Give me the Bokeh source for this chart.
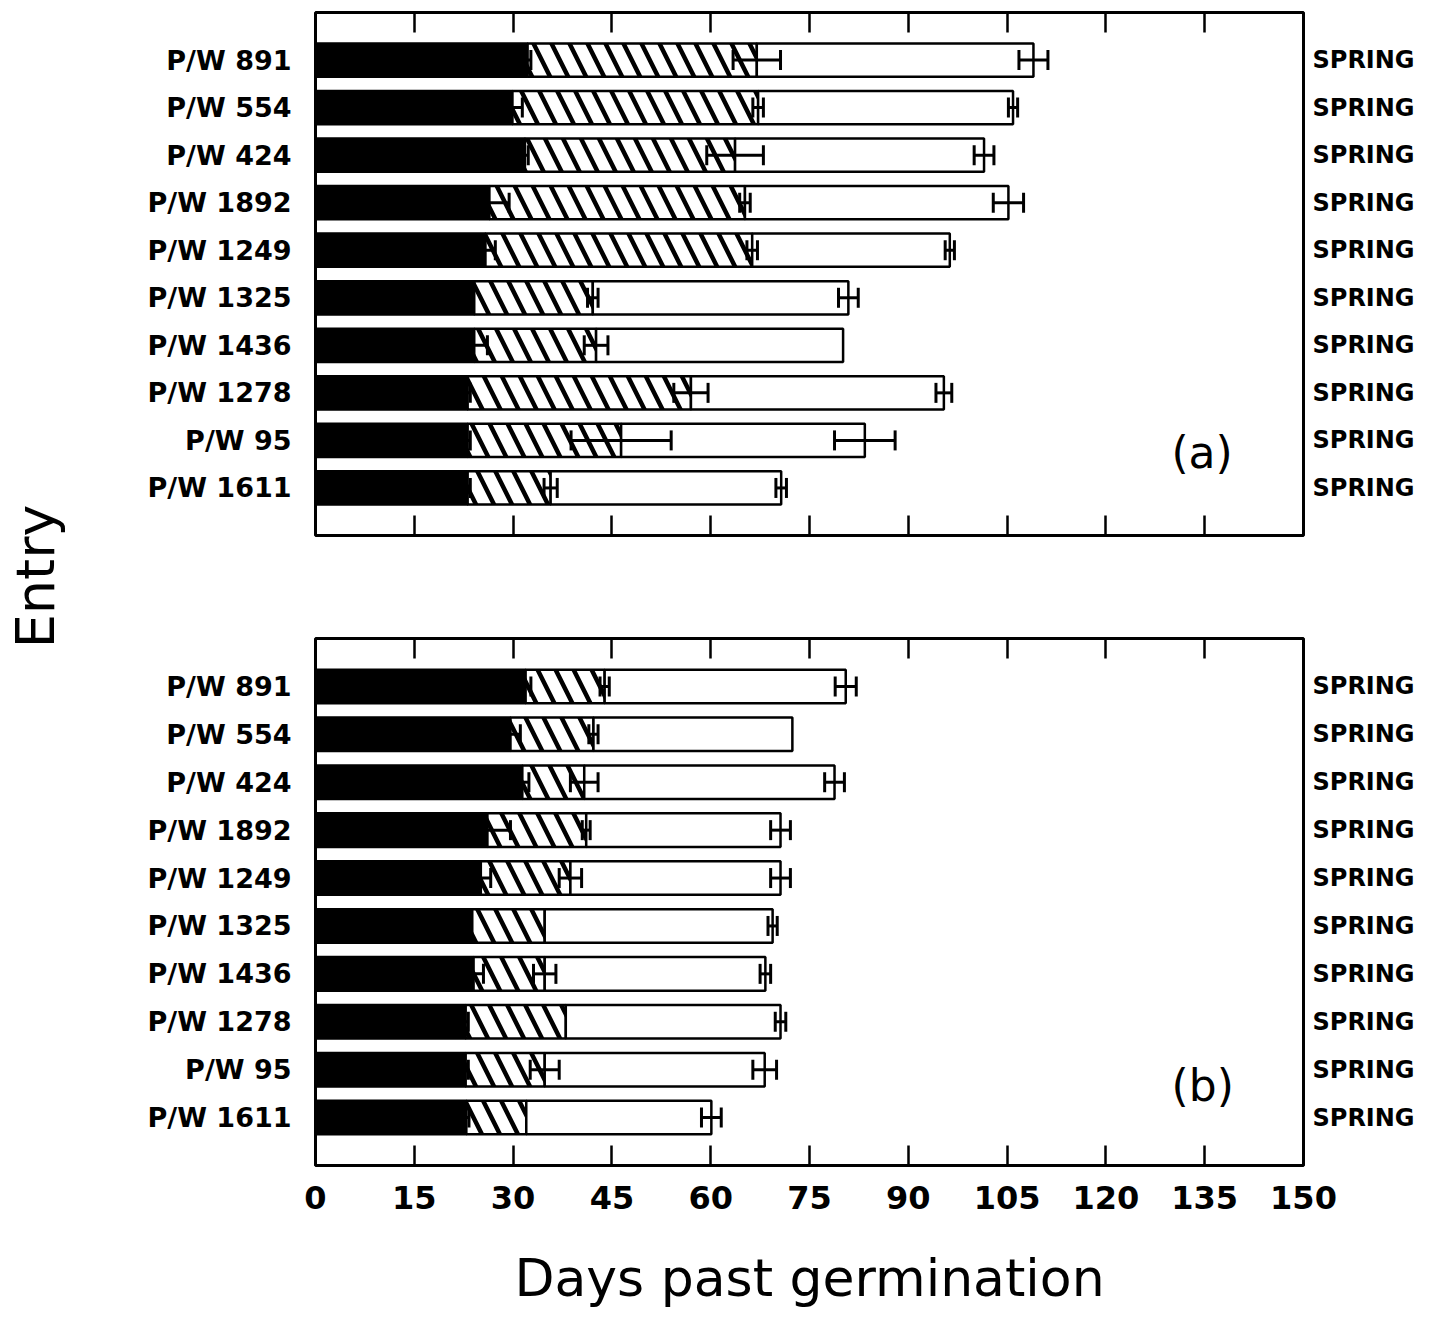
from bokeh.plotting import figure
from bokeh.models import (Range1d, FixedTicker, LinearAxis, Whisker, TeeHead,
                          ColumnDataSource, Label)
from bokeh.layouts import row, column
from bokeh.embed import file_html
from bokeh.resources import INLINE
from bokeh.core.properties import value

# ---------------- data ----------------
entries = ["P/W 891", "P/W 554", "P/W 424", "P/W 1892", "P/W 1249",
           "P/W 1325", "P/W 1436", "P/W 1278", "P/W 95", "P/W 1611"]
season = ["SPRING"] * 10
day_ticks = [0, 15, 30, 45, 60, 75, 90, 105, 120, 135, 150]

# panel (a): end of each phase (days) and its standard error
a_phase1 = [32.2, 29.9, 31.8, 26.4, 25.8, 24.1, 24.1, 23.1, 23.1, 23.1]
a_phase1_se = [0.5, 1.5, 0.5, 3.0, 1.5, 0.0, 2.0, 0.4, 0.4, 0.4]
a_phase2 = [67.0, 67.2, 63.7, 65.2, 66.3, 42.1, 42.6, 57.0, 46.4, 35.7]
a_phase2_se = [3.6, 0.8, 4.3, 0.8, 0.8, 0.8, 1.8, 2.6, 7.6, 1.0]
a_phase3 = [109.0, 105.9, 101.5, 105.2, 96.3, 80.9, 80.1, 95.4, 83.4, 70.7]
a_phase3_se = [2.2, 0.7, 1.5, 2.3, 0.7, 1.5, 0.0, 1.2, 4.6, 0.8]

# panel (b)
b_phase1 = [31.9, 29.6, 31.4, 26.1, 25.1, 23.8, 24.0, 22.8, 22.8, 22.9]
b_phase1_se = [0.8, 1.5, 1.0, 3.5, 1.5, 0.0, 1.5, 0.4, 0.4, 0.4]
b_phase2 = [43.9, 42.2, 40.8, 41.1, 38.7, 34.8, 34.8, 38.0, 34.8, 32.0]
b_phase2_se = [0.7, 0.7, 2.1, 0.6, 1.7, 0.0, 1.7, 0.0, 2.2, 0.0]
b_phase3 = [80.5, 72.4, 78.8, 70.6, 70.6, 69.4, 68.3, 70.6, 68.2, 60.1]
b_phase3_se = [1.6, 0.0, 1.5, 1.5, 1.5, 0.7, 0.8, 0.8, 1.8, 1.5]

FONT = "DejaVu Sans"
LW = 2.5
WLW = 3


def whiskers(p, pos, ends, ses):
    ys, lo, hi = [], [], []
    for y, e, s in zip(pos, ends, ses):
        if s > 0:
            ys.append(y)
            lo.append(e - s)
            hi.append(e + s)
    src = ColumnDataSource(dict(y=ys, lo=lo, hi=hi))
    w = Whisker(source=src, base="y", lower="lo", upper="hi", dimension="width",
                line_color="black", line_width=WLW, level="annotation",
                lower_head=TeeHead(size=20, line_color="black", line_width=WLW),
                upper_head=TeeHead(size=20, line_color="black", line_width=WLW))
    p.add_layout(w)


def tick_only_axis(ticks):
    return LinearAxis(ticker=FixedTicker(ticks=ticks, minor_ticks=[]),
                      major_label_overrides={t: "" for t in ticks},
                      major_tick_in=20, major_tick_out=0,
                      major_tick_line_width=LW, major_tick_line_color="black",
                      minor_tick_line_color=None, axis_line_color=None,
                      major_label_standoff=0, major_label_text_font_size="1px")


def make_panel(tag, ph1, ph1_se, ph2, ph2_se, ph3, ph3_se, width, height,
               mbl, mbr, mbt, mbb, bottom_labels, tag_xy):
    n = len(entries)
    pos = list(range(1, n + 1))
    p = figure(width=width, height=height, x_range=Range1d(0, 150),
               y_range=Range1d(n + 1, 0), x_axis_type=None, y_axis_type=None,
               output_backend="svg", toolbar_location=None,
               min_border_left=mbl, min_border_right=mbr,
               min_border_top=mbt, min_border_bottom=mbb)
    p.outline_line_color = "black"
    p.outline_line_width = 3
    p.background_fill_color = "white"
    p.border_fill_color = "white"

    src = ColumnDataSource(dict(y=pos, p1=ph1, p2=ph2, p3=ph3))
    p.hbar(y="y", left=0, right="p1", height=0.7, source=src,
           fill_color="black", line_color="black", line_width=LW)
    p.hbar(y="y", left="p1", right="p2", height=0.7, source=src,
           fill_color="white", line_color="black", line_width=LW,
           hatch_pattern="\\", hatch_color="black", hatch_weight=4.5,
           hatch_scale=36)
    p.hbar(y="y", left="p2", right="p3", height=0.7, source=src,
           fill_color="white", line_color="black", line_width=LW)

    whiskers(p, pos, ph1, ph1_se)
    whiskers(p, pos, ph2, ph2_se)
    whiskers(p, pos, ph3, ph3_se)

    inner = day_ticks[1:-1]

    # entry labels (left)
    left = LinearAxis(ticker=FixedTicker(ticks=pos, minor_ticks=[]),
                      major_label_overrides={k: v for k, v in zip(pos, entries)},
                      major_tick_line_color=None, minor_tick_line_color=None,
                      axis_line_color=None, major_label_standoff=18,
                      major_label_text_font=FONT,
                      major_label_text_font_style="bold",
                      major_label_text_font_size="27px",
                      major_label_text_color="black")
    p.add_layout(left, "left")

    # season labels (right)
    right = LinearAxis(ticker=FixedTicker(ticks=pos, minor_ticks=[]),
                       major_label_overrides={k: v for k, v in zip(pos, season)},
                       major_tick_line_color=None, minor_tick_line_color=None,
                       axis_line_color=None, major_label_standoff=3,
                       major_label_text_font=FONT,
                       major_label_text_font_style="bold",
                       major_label_text_font_size="24px",
                       major_label_text_color="black")
    p.add_layout(right, "right")

    p.add_layout(tick_only_axis(inner), "above")

    if bottom_labels:
        bottom = LinearAxis(ticker=FixedTicker(ticks=day_ticks, minor_ticks=[]),
                            major_tick_in=20, major_tick_out=0,
                            major_tick_line_width=LW, major_tick_line_color="black",
                            minor_tick_line_color=None, axis_line_color=None,
                            major_label_standoff=20,
                            major_label_text_font=FONT,
                            major_label_text_font_style="bold",
                            major_label_text_font_size="32px",
                            major_label_text_color="black",
                            axis_label="Days past germination",
                            axis_label_standoff=36,
                            axis_label_text_font=FONT,
                            axis_label_text_font_style="normal",
                            axis_label_text_font_size="52px",
                            axis_label_text_color="black")
    else:
        bottom = tick_only_axis(inner)
    p.add_layout(bottom, "below")

    p.add_layout(Label(x=tag_xy[0], y=tag_xy[1], text=tag,
                       text_font=FONT, text_font_size="44px",
                       text_align="center", text_baseline="middle",
                       text_color="black"))
    return p


H_A = 582
H_B = 736
pa = make_panel("(a)", a_phase1, a_phase1_se, a_phase2, a_phase2_se,
                a_phase3, a_phase3_se, width=1360, height=H_A,
                mbl=245, mbr=127, mbt=12, mbb=47, bottom_labels=False,
                tag_xy=(134.6, 9.25))
pb = make_panel("(b)", b_phase1, b_phase1_se, b_phase2, b_phase2_se,
                b_phase3, b_phase3_se, width=1360, height=H_B,
                mbl=245, mbr=127, mbt=56, mbb=153, bottom_labels=True,
                tag_xy=(134.7, 9.33))

# common y-axis title
total_h = H_A + H_B
pe = figure(width=70, height=total_h, x_range=Range1d(0, 70),
            y_range=Range1d(total_h, 0), x_axis_type=None, y_axis_type=None,
            output_backend="svg", toolbar_location=None,
            min_border_left=0, min_border_right=0, min_border_top=0,
            min_border_bottom=0)
pe.outline_line_color = None
pe.text(x=[35], y=[576], text=["Entry"], angle=1.5707963,
        text_font=value(FONT), text_font_size="54px", text_align="center",
        text_baseline="middle", text_color="black")

layout = row(pe, column(pa, pb))
open("out.html", "w").write(file_html(layout, INLINE))
